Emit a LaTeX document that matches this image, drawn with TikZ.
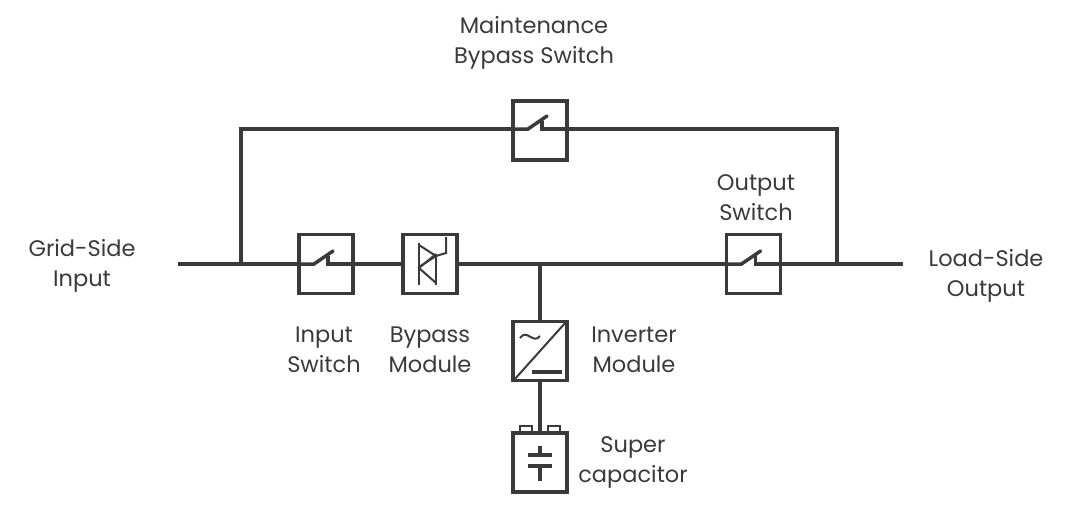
\documentclass[tikz,border=0pt]{standalone}
\usepackage{fontspec}
\setmainfont{Poppins}
\begin{document}
\begin{tikzpicture}[x=1pt,y=-1pt,
  line/.style={draw=ink,line width=3.5pt},
  box/.style={draw=ink,line width=3.5pt,fill=white},
  sym/.style={draw=ink,line width=2pt},
  lbl/.style={text=ink,font=\fontsize{22.5}{30}\selectfont,align=center}]
\definecolor{ink}{HTML}{3A3A3A}
\useasboundingbox (0,0) rectangle (1080,512);
% coordinates
\coordinate (gin) at (178,264);
\coordinate (lout) at (903,264);
\coordinate (jl) at (241,264);
\coordinate (jr) at (837,264);
\coordinate (tl) at (241,129);
\coordinate (tr) at (837,129);
\coordinate (jm) at (540,264);
% wires
\draw[line] (gin) -- (lout);
\draw[line] (jl) -- (tl) -- (tr) -- (jr);
\draw[line] (jm) -- (540,462);
% boxes
\node[box,minimum width=54pt,minimum height=59pt,inner sep=0] (ms) at (540,130.5) {};
\node[box,minimum width=54pt,minimum height=59pt,inner sep=0] (is) at (326,264) {};
\node[box,minimum width=54pt,minimum height=59pt,inner sep=0] (bm) at (430,264) {};
\node[box,minimum width=54pt,minimum height=59pt,inner sep=0] (os) at (753.5,264) {};
\node[box,minimum width=54pt,minimum height=59pt,inner sep=0] (im) at (540,351) {};
% capacitor terminals
\draw[sym,fill=white] (520,433) rectangle (532,426);
\draw[sym,fill=white] (548,433) rectangle (560,426);
\node[box,minimum width=54pt,minimum height=59pt,inner sep=0] (sc) at (540,462.5) {};
% switch symbols
\foreach \n/\cx/\cy in {ms/540/129, is/326/264, os/753.5/264}{
  \draw[line,line cap=round] (\cx-28,\cy) -- (\cx-12,\cy) -- (\cx+7,\cy-13);
  \draw[line] (\cx+2,\cy-8) -- (\cx+2,\cy) -- (\cx+28,\cy);
}
% thyristor pair
\draw[sym] (419,243) -- (419,285);
\draw[sym] (419,245) -- (436,256) -- (419,267);
\draw[sym] (436,254) -- (436,285);
\draw[sym] (436,254) -- (419,268) -- (436,283);
\draw[sym] (436,256) -- (446,253) -- (446,237);
% inverter
\draw[sym] (514,380) -- (566,322);
\draw[sym] (520,338) .. controls (527,328) and (533,345) .. (540,336);
\draw[line] (532,372) -- (562,372);
% capacitor
\draw[line] (540,446) -- (540,455);
\draw[line] (528,455) -- (552,455);
\draw[line] (528,466) -- (552,466);
\draw[line] (540,466) -- (540,481);
% labels
\node[lbl] (l1) at (534,43) {Maintenance\\Bypass Switch};
\node[lbl] (l2) at (82,266) {Grid-Side\\Input};
\node[lbl] (l3) at (986,276) {Load-Side\\Output};
\node[lbl] (l4) at (756,198) {Output\\Switch};
\node[lbl] (l5) at (324,350) {Input\\Switch};
\node[lbl] (l6) at (430,350) {Bypass\\Module};
\node[lbl] (l7) at (634,350) {Inverter\\Module};
\node[lbl] (l8) at (633,462) {Super\\capacitor};
\end{tikzpicture}
\end{document}
